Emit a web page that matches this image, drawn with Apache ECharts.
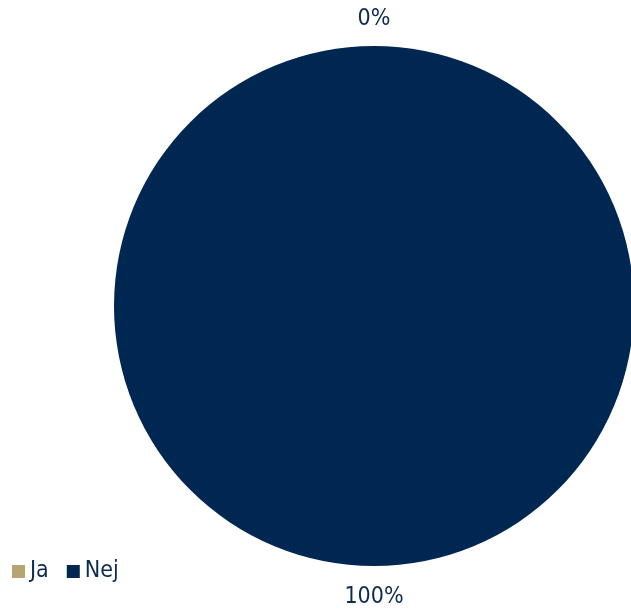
<!DOCTYPE html>
<html><head><meta charset="utf-8">
<script src="https://cdn.jsdelivr.net/npm/echarts@6/dist/echarts.min.js"></script>
<style>html,body{margin:0;padding:0;background:#fff}#c{width:631px;height:609px}</style>
</head><body><div id="c"></div>
<script>
const categories = ["Ja", "Nej"];
const values = [0, 100];
const colors = ["#b8a470", "#002752"];
const FONT = '"DejaVu Sans Condensed", "DejaVu Sans", sans-serif';

const chart = echarts.init(document.getElementById('c'), null, {renderer: 'canvas'});
chart.setOption({
  animation: false,
  legend: {
    data: categories,
    left: 7, top: 555,
    itemWidth: 13, itemHeight: 13, itemGap: 18,
    icon: 'rect',
    textStyle: {fontFamily: FONT, fontSize: 23, color: '#0d2a52'}
  },
  series: [{
    type: 'pie',
    center: [374, 306],
    radius: 260,
    startAngle: 90,
    clockwise: true,
    avoidLabelOverlap: false,
    stillShowZeroSum: true,
    minShowLabelAngle: 0,
    data: categories.map((c, i) => ({name: c, value: values[i], itemStyle: {color: colors[i]}})),
    label: {
      show: true, position: 'outside',
      formatter: p => Math.round(p.percent) + '%',
      fontFamily: FONT, fontSize: 23, color: '#0d2a52'
    },
    labelLine: {show: false, length: 29, length2: 0},
    labelLayout: () => ({align: 'center', verticalAlign: 'middle', dx: 5, dy: 2}),
    emphasis: {disabled: true}
  }]
});
</script></body></html>
